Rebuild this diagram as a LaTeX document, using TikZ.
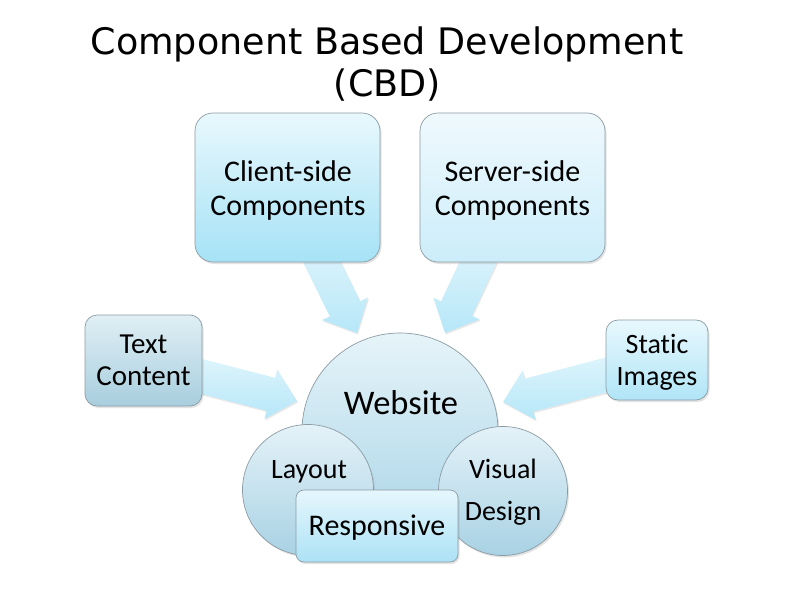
\documentclass[tikz,border=0pt]{standalone}
\usepackage{fontspec}
\setmainfont{Carlito}[RawFeature=-liga]
\newfontfamily\titlefont{DejaVu Sans}
\usetikzlibrary{calc,shadows}
\definecolor{edgegray}{HTML}{8C9CA4}
\definecolor{arrowtop}{HTML}{DDF4FC}
\definecolor{arrowbot}{HTML}{B6E7F8}
\tikzset{
  boxbase/.style={rounded corners=#1, draw=edgegray, line width=0.7pt, inner sep=0pt,
    align=center, font=\fontsize{30}{34}\selectfont,
    drop shadow={opacity=0.22, shadow xshift=1.5pt, shadow yshift=-2pt}},
  circbase/.style={circle, draw=edgegray, line width=0.7pt, inner sep=0pt,
    drop shadow={opacity=0.22, shadow xshift=1.5pt, shadow yshift=-2pt}},
  arrowstyle/.style={top color=arrowtop, bottom color=arrowbot,
    drop shadow={opacity=0.18, shadow xshift=1pt, shadow yshift=-1.5pt}},
  label/.style={inner sep=0pt, align=center, font=\fontsize{28}{33}\selectfont},
}
\newcommand\blockarrow[2]{%
  \coordinate (#1#2b) at ($(#2)!27pt!(#1)$);
  \path[arrowstyle] ($(#1)!17pt!90:(#2)$) -- ($(#1#2b)!17pt!90:(#2)$)
    -- ($(#1#2b)!25.5pt!90:(#2)$) -- (#2) -- ($(#1#2b)!25.5pt!-90:(#2)$)
    -- ($(#1#2b)!17pt!-90:(#2)$) -- ($(#1)!17pt!-90:(#2)$) -- cycle;}
\begin{document}
\begin{tikzpicture}[x=1pt,y=-1pt]
\useasboundingbox[fill=white] (0,0) rectangle (789,591);
% title
\node[anchor=base, inner sep=0pt, font=\titlefont\fontsize{36.5}{40}\selectfont] (t1) at (387,55) {Component Based Development};
\node[anchor=base, inner sep=0pt, font=\titlefont\fontsize{36.5}{40}\selectfont] (t2) at (387.5,97) {(CBD)};
% arrow end points
\coordinate (cs) at (318.5,255);  \coordinate (ct) at (357,333);
\coordinate (ss) at (481.5,255);  \coordinate (st) at (445,333);
\coordinate (xs) at (194,374.5);  \coordinate (xt) at (297,401);
\coordinate (is) at (613.5,373);  \coordinate (it) at (503,402);
\blockarrow{cs}{ct}
\blockarrow{ss}{st}
\blockarrow{xs}{xt}
\blockarrow{is}{it}
% boxes
\node[boxbase=18pt, top color={rgb,255:red,232;green,248;blue,253}, bottom color={rgb,255:red,166;green,226;blue,246},
  minimum width=185pt, minimum height=149pt, text depth=0pt] (client) at (287.5,187.5) {};
\node[label, font=\fontsize{30}{34}\selectfont] (clientlbl) at (288,191) {Client-side\\Components};
\node[boxbase=18pt, top color={rgb,255:red,239;green,249;blue,253}, bottom color={rgb,255:red,204;green,237;blue,250},
  minimum width=185pt, minimum height=149pt] (server) at (512.5,187.5) {};
\node[label, font=\fontsize{30}{34}\selectfont] (serverlbl) at (512.5,191) {Server-side\\Components};
\node[boxbase=12pt, top color={rgb,255:red,224;green,239;blue,245}, bottom color={rgb,255:red,168;green,206;blue,222},
  minimum width=117pt, minimum height=91pt, font=\fontsize{29}{32}\selectfont] (text) at (143.5,360.5) {Text\\Content};
\node[boxbase=12pt, top color={rgb,255:red,232;green,248;blue,253}, bottom color={rgb,255:red,176;green,229;blue,247},
  minimum width=102pt, minimum height=80pt, font=\fontsize{28}{32}\selectfont] (static) at (657,360) {};
\node[label, font=\fontsize{28}{32}\selectfont] (staticlbl) at (657,362) {Static\\Images};
% circles
\node[circbase, top color={rgb,255:red,230;green,244;blue,249}, bottom color={rgb,255:red,172;green,214;blue,232},
  minimum size=196pt] (website) at (400,431) {};
\node[circbase, top color={rgb,255:red,228;green,242;blue,248}, bottom color={rgb,255:red,168;green,210;blue,228},
  minimum size=131pt] (layout) at (308,490) {};
\node[circbase, top color={rgb,255:red,228;green,242;blue,248}, bottom color={rgb,255:red,168;green,210;blue,228},
  minimum size=129pt] (visual) at (503,491) {};
\node[boxbase=8pt, top color={rgb,255:red,230;green,247;blue,253}, bottom color={rgb,255:red,172;green,226;blue,245},
  minimum width=162pt, minimum height=72pt] (resp) at (377,526) {};
\node[label, font=\fontsize{30}{34}\selectfont] (resplbl) at (377,527.5) {Responsive};
% circle labels
\node[label, font=\fontsize{34.5}{40}\selectfont] (weblbl) at (401,403) {Website};
\node[label] (laylbl) at (309,472) {Layout};
\node[label, font=\fontsize{28}{42}\selectfont] (vislbl) at (503,492) {Visual\\Design};
\end{tikzpicture}
\end{document}
